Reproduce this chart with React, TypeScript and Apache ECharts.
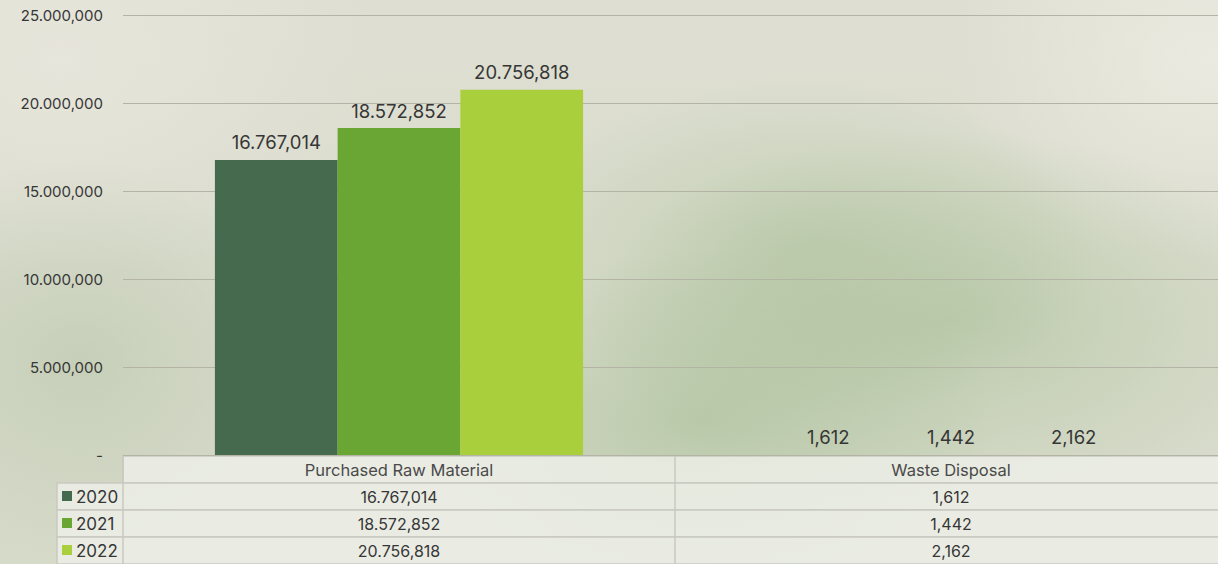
import React, { useEffect, useRef } from "react";
import * as echarts from "echarts";

// Chart data
const categories = ["Purchased Raw Material", "Waste Disposal"];
const years = ["2020", "2021", "2022"];
const values2020 = [16767014, 1612];
const values2021 = [18572852, 1442];
const values2022 = [20756818, 2162];
const seriesValues = [values2020, values2021, values2022];
const seriesColors = ["#466a4e", "#6aa634", "#a9d03c"];

const FONT = "Inter, 'Noto Sans', sans-serif";
const TEXT = "#363636";

// Millions separated by ".", thousands by ","
function fmt(n: number): string {
  if (n === 0) return "-";
  const s = Math.round(n).toString();
  const groups: string[] = [];
  for (let i = s.length; i > 0; i -= 3) groups.unshift(s.slice(Math.max(0, i - 3), i));
  if (groups.length === 1) return groups[0];
  const last = groups.pop();
  return groups.join(".") + "," + last;
}

// The plot runs slightly past the visible right edge
const W = 1227;
const H = 564;
const GRID_LEFT = 123;
const GRID_RIGHT = 0;
const GRID_TOP = 15;
const GRID_BOTTOM = 109;

export default function App() {
  const ref = useRef<HTMLDivElement>(null);

  useEffect(() => {
    document.body.style.margin = "0";
    document.body.style.overflow = "hidden";
    if (!ref.current) return;
    const chart = echarts.init(ref.current, undefined, { renderer: "svg" });

    const catW = (W - GRID_LEFT - GRID_RIGHT) / categories.length;
    const tableTop = H - GRID_BOTTOM + 1;
    const rowH = 27;
    const legendLeft = 57;
    const border = "#c9c9c1";
    const cellFill = "rgba(240,241,235,0.78)";

    const graphics: any[] = [];
    // header row background
    graphics.push({
      type: "rect",
      shape: { x: GRID_LEFT, y: tableTop, width: W - GRID_LEFT, height: rowH },
      style: { fill: cellFill, stroke: border, lineWidth: 1.5 },
      silent: true,
    });
    // body rows
    years.forEach((y, r) => {
      const top = tableTop + rowH * (r + 1);
      graphics.push({
        type: "rect",
        shape: { x: legendLeft, y: top, width: W - legendLeft + 2, height: rowH },
        style: { fill: cellFill, stroke: border, lineWidth: 1.5 },
        silent: true,
      });
      graphics.push({
        type: "rect",
        shape: { x: legendLeft + 5, y: top + 8, width: 10, height: 10 },
        style: { fill: seriesColors[r] },
        silent: true,
      });
      graphics.push({
        type: "text",
        x: legendLeft + 19,
        y: top + rowH / 2,
        style: { text: y, fill: TEXT, font: `17px ${FONT}`, textVerticalAlign: "middle", textAlign: "left" },
        silent: true,
      });
      categories.forEach((_, c) => {
        graphics.push({
          type: "text",
          x: GRID_LEFT + catW * (c + 0.5),
          y: top + rowH / 2,
          style: { text: fmt(seriesValues[r][c]), fill: TEXT, font: `16px ${FONT}`, textAlign: "center", textVerticalAlign: "middle" },
          silent: true,
        });
      });
    });
    // vertical column lines
    for (let c = 0; c <= categories.length; c++) {
      const x = GRID_LEFT + catW * c;
      graphics.push({
        type: "line",
        shape: { x1: x, y1: tableTop, x2: x, y2: H },
        style: { stroke: border, lineWidth: 1.5 },
        silent: true,
      });
    }
    // header labels
    categories.forEach((cat, c) => {
      graphics.push({
        type: "text",
        x: GRID_LEFT + catW * (c + 0.5),
        y: tableTop + rowH / 2,
        style: { text: cat, fill: "#4a4a4a", font: `16.5px ${FONT}`, textAlign: "center", textVerticalAlign: "middle" },
        silent: true,
      });
    });

    chart.setOption({
      animation: false,
      backgroundColor: "transparent",
      textStyle: { fontFamily: FONT },
      grid: { left: GRID_LEFT, right: GRID_RIGHT, top: GRID_TOP, bottom: GRID_BOTTOM, containLabel: false },
      xAxis: {
        type: "category",
        data: categories,
        axisLine: { show: false },
        axisTick: { show: false },
        axisLabel: { show: false },
      },
      yAxis: {
        type: "value",
        min: 0,
        max: 25000000,
        interval: 5000000,
        axisLine: { show: false },
        axisTick: { show: false },
        splitLine: { lineStyle: { color: "#b4b4a6", width: 1 } },
        axisLabel: {
          margin: 20,
          color: TEXT,
          fontSize: 15,
          fontFamily: FONT,
          formatter: (v: number) => fmt(v),
        },
      },
      series: years.map((y, i) => ({
        name: y,
        type: "bar",
        data: seriesValues[i],
        barGap: "0%",
        barCategoryGap: "33.3%",
        itemStyle: { color: seriesColors[i] },
        label: {
          show: true,
          position: "top",
          distance: 8,
          color: TEXT,
          fontSize: 18.5,
          fontFamily: FONT,
          formatter: (p: any) => fmt(p.value),
        },
      })),
      graphic: graphics,
    });

    return () => chart.dispose();
  }, []);

  const bg = [
    "radial-gradient(ellipse 300px 170px at 800px 250px, rgba(160,185,140,0.42), rgba(160,185,140,0) 100%)",
    "radial-gradient(ellipse 360px 190px at 950px 320px, rgba(150,180,130,0.42), rgba(150,180,130,0) 100%)",
    "radial-gradient(ellipse 300px 170px at 700px 420px, rgba(150,180,130,0.45), rgba(150,180,130,0) 100%)",
    "radial-gradient(ellipse 240px 200px at 80px 360px, rgba(170,188,155,0.4), rgba(170,188,155,0) 100%)",
    "radial-gradient(ellipse 260px 200px at 1210px 60px, rgba(240,238,230,0.75), rgba(240,238,230,0) 100%)",
    "radial-gradient(ellipse 320px 220px at 60px 60px, rgba(236,233,225,0.65), rgba(236,233,225,0) 100%)",
    "linear-gradient(#dedfd2, #d6dac9)",
  ].join(", ");

  return (
    <div
      ref={ref}
      style={{ width: W, height: H, background: bg, position: "relative" }}
    />
  );
}
